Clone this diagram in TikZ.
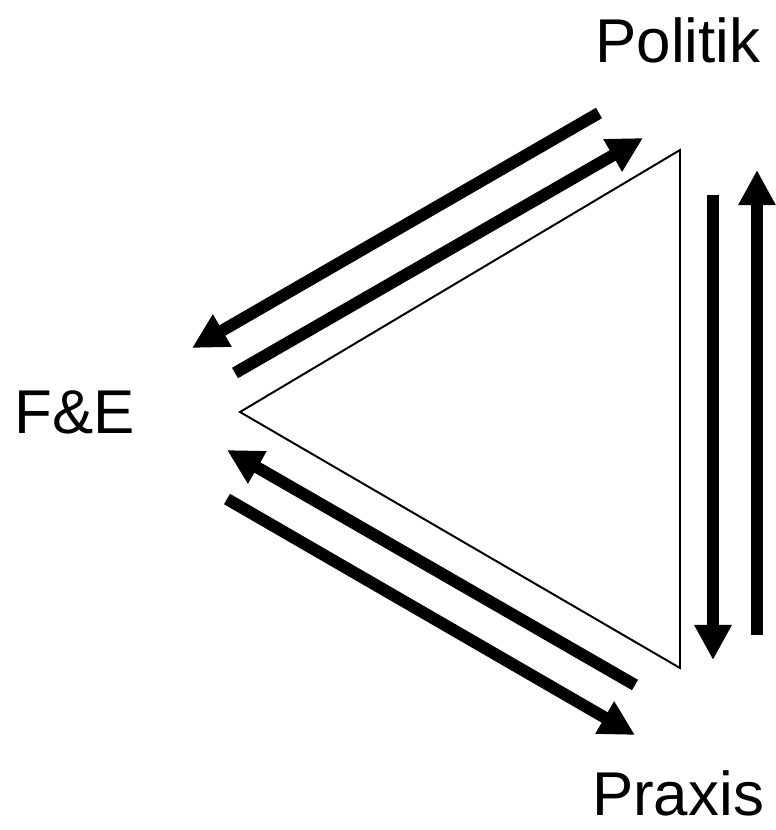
\documentclass[tikz,border=0pt]{standalone}
\usepackage{fontspec}
\setmainfont{Liberation Sans}
\usetikzlibrary{arrows.meta}

\begin{document}
\begin{tikzpicture}[
  x=0.025cm, y=-0.025cm,
  every node/.style={inner sep=0pt, anchor=base, font=\fontsize{44}{52}\selectfont}
]
\tikzstyle{pfeil}=[line width=0.3cm, -{Triangle[length=0.875cm, width=0.875cm]}]
\tikzstyle{dreieck}=[line width=1.4pt, line join=miter]

\useasboundingbox (0,0) rectangle (776,830);

\node (politik) at (678,62) {Politik};
\node (fue) at (74.5,433) {F\&E};
\node (praxis) at (678,815) {Praxis};

\coordinate (ecke-l) at (240,412);
\coordinate (ecke-o) at (680,150);
\coordinate (ecke-u) at (680,668);
\draw[dreieck] (ecke-l) -- (ecke-o) -- (ecke-u) -- cycle;

% Politik -- F&E
\coordinate (a1) at (599,113); \coordinate (b1) at (192,348);
\coordinate (a2) at (235,373); \coordinate (b2) at (643,138);
\draw[pfeil] (a1) -- (b1);
\draw[pfeil] (a2) -- (b2);

% F&E -- Praxis
\coordinate (a3) at (635,685); \coordinate (b3) at (227,450);
\coordinate (a4) at (227,499); \coordinate (b4) at (635,735);
\draw[pfeil] (a3) -- (b3);
\draw[pfeil] (a4) -- (b4);

% Politik -- Praxis
\coordinate (a5) at (713,195); \coordinate (b5) at (713,660);
\coordinate (a6) at (757,635); \coordinate (b6) at (757,170);
\draw[pfeil] (a5) -- (b5);
\draw[pfeil] (a6) -- (b6);
\end{tikzpicture}
\end{document}
